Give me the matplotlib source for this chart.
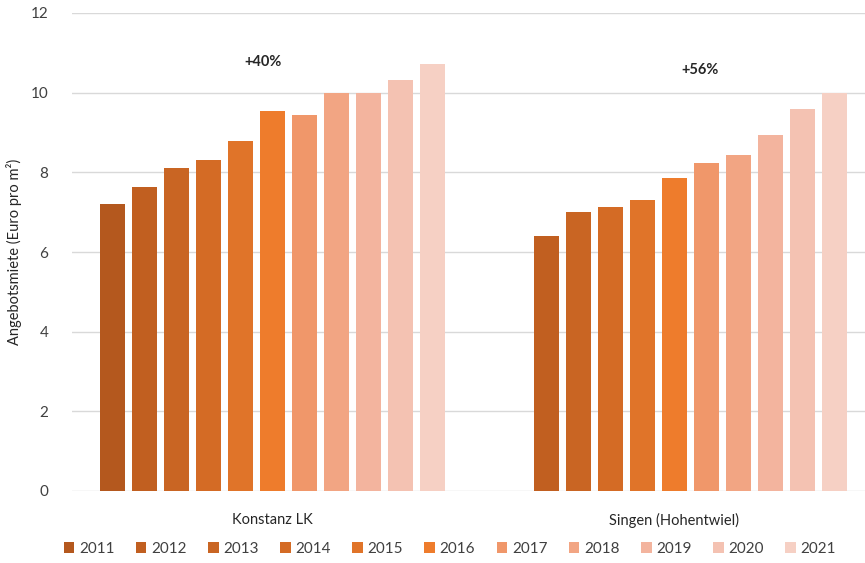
import numpy as np
import matplotlib.pyplot as plt

plt.rcParams['font.family'] = ['Lato', 'DejaVu Sans']

# Daten
regionen = ['Konstanz LK', 'Singen (Hohentwiel)']
jahre = ['2011', '2012', '2013', '2014', '2015', '2016', '2017', '2018', '2019', '2020', '2021']
konstanz = [7.2, 7.63, 8.11, 8.31, 8.79, 9.54, 9.44, 10.0, 10.0, 10.32, 10.72]
singen = [np.nan, 6.4, 7.0, 7.13, 7.31, 7.86, 8.23, 8.44, 8.94, 9.59, 10.0]
veraenderung = ['+40%', '+56%']
farben = ['#B4581E', '#C15F20', '#C96523', '#D46B25', '#E07429', '#EE7C2C',
          '#F0976A', '#F2A583', '#F3B49E', '#F4C2B2', '#F6D0C4']

f = plt.figure(figsize=(8.65, 5.63), dpi=100)
ax = f.add_axes([72/865, 72/563, 803/865, 478/563])

x = np.arange(len(regionen))
schritt = 0.0797
breite = 0.0623
for i, jahr in enumerate(jahre):
    werte = [konstanz[i], singen[i]]
    ax.bar(x + (i - 5) * schritt, werte, breite, color=farben[i], label=jahr, zorder=3)

ax.set_xlim(-0.5, 1.5)
ax.set_ylim(0, 12)
ax.set_yticks(range(0, 13, 2))
ax.grid(axis='y', color='#D9D9D9', linewidth=1, zorder=0)
for s in ax.spines.values():
    s.set_visible(False)
ax.tick_params(axis='both', length=0, labelsize=11, colors='#404040')
ax.tick_params(axis='y', pad=17)
ax.set_xticks(x)
ax.set_xticklabels(regionen, fontsize=10.5, color='#262626')
ax.tick_params(axis='x', pad=16)
ax.set_ylabel('Angebotsmiete (Euro pro m²)', fontsize=10.5, color='#262626', labelpad=6)

# Prozentwerte ueber den Gruppen
ax.text(x[0] - 0.024, 10.77, veraenderung[0], ha='center', va='center',
        fontsize=10.5, fontweight='bold', color='#262626')
ax.text(x[1] + 0.064, 10.57, veraenderung[1], ha='center', va='center',
        fontsize=10.5, fontweight='bold', color='#262626')

f.legend(loc='lower center', ncol=11, frameon=False, fontsize=11,
         bbox_to_anchor=(0.52, -0.012), handlelength=0.7, handleheight=0.7,
         handletextpad=0.3, columnspacing=1.4, labelcolor='#404040')

f.savefig('out.png', dpi=100)
